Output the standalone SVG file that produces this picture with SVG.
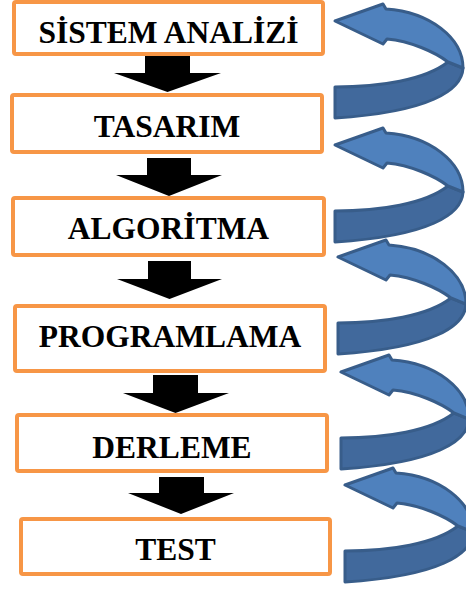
<svg xmlns="http://www.w3.org/2000/svg" width="466" height="589" viewBox="0 0 466 589">
  <style>
    .box { fill: #ffffff; stroke: #F79646; stroke-width: 4; }
    .lbl { font-family: "Liberation Serif", "Times New Roman", serif; font-weight: bold; font-size: 31.5px; fill: #000000; text-anchor: middle; }
    .down { fill: #000000; }
    .back { fill: #41699C; stroke: #385D8A; stroke-width: 3; stroke-linejoin: round; }
    .front { fill: #4F81BD; stroke: #385D8A; stroke-width: 3; stroke-linejoin: round; }
  </style>
  <defs>
    <!-- curled return arrow: darker back band plus lighter front band with head -->
    <g id="curl">
      <path class="back" d="M335,87 C380,87 425,80 448,62 L463,68 C462,90 430,112 335,118 Z"/>
      <path class="front" d="M335,21 L383,4 L386,9 C430,12 463,38 463,68 L448,62 C435,52 410,41 387,39 L383,44 Z"/>
    </g>
  </defs>

  <g id="connectors">
    <!-- downward block arrows between steps -->
    <path class="down" d="M145,56 h45 v17 h31 L167.5,92 L114,73 h31 Z"/>
    <path class="down" d="M147,158 h44 v17 h31 L169,196 L116,175 h31 Z"/>
    <path class="down" d="M148,261 h43 v18 h31 L169.5,299 L117,279 h31 Z"/>
    <path class="down" d="M153,375 h45 v18 h31 L175.5,413 L123,393 h30 Z"/>
    <path class="down" d="M159,477 h45 v16 h30 L181,514 L128,493 h31 Z"/>
    <!-- feedback curls on the right -->
    <use href="#curl"/>
    <use href="#curl" transform="translate(0,124)"/>
    <use href="#curl" transform="translate(3,236)"/>
    <use href="#curl" transform="translate(6,351)"/>
    <use href="#curl" transform="translate(10,464)"/>
  </g>

  <g id="sistem-analizi">
    <rect class="box" x="14" y="2" width="309" height="52" rx="2"/>
    <text class="lbl" x="168.5" y="43">SİSTEM ANALİZİ</text>
  </g>
  <g id="tasarim">
    <rect class="box" x="12" y="95" width="310" height="57" rx="2"/>
    <text class="lbl" x="167" y="137">TASARIM</text>
  </g>
  <g id="algoritma">
    <rect class="box" x="13" y="198" width="311" height="57" rx="2"/>
    <text class="lbl" x="168.5" y="239">ALGORİTMA</text>
  </g>
  <g id="programlama">
    <rect class="box" x="15" y="306" width="310" height="65" rx="2"/>
    <text class="lbl" x="170" y="347">PROGRAMLAMA</text>
  </g>
  <g id="derleme">
    <rect class="box" x="17" y="415" width="310" height="56" rx="2"/>
    <text class="lbl" x="172" y="458">DERLEME</text>
  </g>
  <g id="test">
    <rect class="box" x="21" y="519" width="309" height="55" rx="2"/>
    <text class="lbl" x="175.5" y="560">TEST</text>
  </g>
</svg>
